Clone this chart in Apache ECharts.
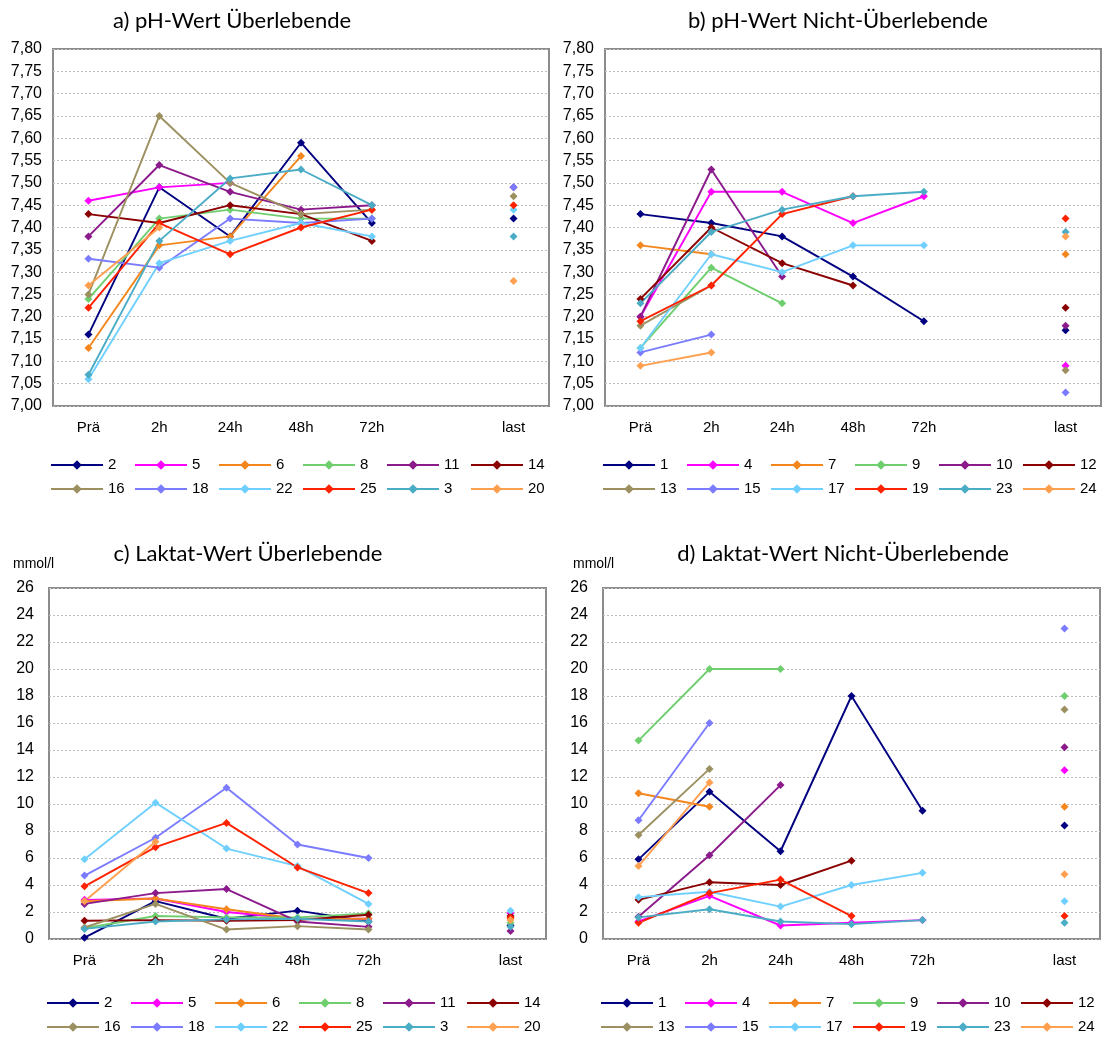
<!DOCTYPE html>
<html><head><meta charset="utf-8">
<script src="https://cdn.jsdelivr.net/npm/echarts@6/dist/echarts.min.js"></script>
<style>html,body{margin:0;padding:0;background:#fff}#c{width:1120px;height:1039px}</style>
</head><body><div id="c"></div>
<script>
const categories = ['Prä','2h','24h','48h','72h','','last'];
const phTicks = [7.00,7.80,0.05];
const lacTicks = [0,26,2];

const survIds = ['2','5','6','8','11','14','16','18','22','25','3','20'];
const nonIds  = ['1','4','7','9','10','12','13','15','17','19','23','24'];

const phSurv = [
  [7.16,7.49,7.38,7.59,7.41,null,7.42],
  [7.46,7.49,7.50,null,null,null,null],
  [7.13,7.36,7.38,7.56,null,null,null],
  [7.24,7.42,7.44,7.42,7.42,null,null],
  [7.38,7.54,7.48,7.44,7.45,null,7.49],
  [7.43,7.41,7.45,7.43,7.37,null,null],
  [7.25,7.65,7.50,7.43,7.44,null,7.47],
  [7.33,7.31,7.42,7.41,7.42,null,7.49],
  [7.06,7.32,7.37,7.41,7.38,null,7.44],
  [7.22,7.41,7.34,7.40,7.44,null,7.45],
  [7.07,7.37,7.51,7.53,7.45,null,7.38],
  [7.27,7.40,null,null,null,null,7.28]
];
const phNon = [
  [7.43,7.41,7.38,7.29,7.19,null,7.17],
  [7.20,7.48,7.48,7.41,7.47,null,7.09],
  [7.36,7.34,null,null,null,null,7.34],
  [7.13,7.31,7.23,null,null,null,null],
  [7.20,7.53,7.29,null,null,null,7.18],
  [7.24,7.40,7.32,7.27,null,null,7.22],
  [7.18,7.27,null,null,null,null,7.08],
  [7.12,7.16,null,null,null,null,7.03],
  [7.13,7.34,7.30,7.36,7.36,null,null],
  [7.19,7.27,7.43,7.47,null,null,7.42],
  [7.23,7.39,7.44,7.47,7.48,null,7.39],
  [7.09,7.12,null,null,null,null,7.38]
];
const lacSurv = [
  [0.1,2.8,1.5,2.1,1.3,null,1.0],
  [2.9,3.0,2.0,1.5,1.5,null,1.9],
  [2.8,3.0,2.2,1.5,1.5,null,1.5],
  [0.8,1.7,1.6,1.6,1.9,null,1.2],
  [2.6,3.4,3.7,1.3,0.9,null,0.6],
  [1.35,1.4,1.35,1.4,1.8,null,1.7],
  [0.85,2.6,0.7,0.95,0.7,null,null],
  [4.7,7.5,11.2,7.0,6.0,null,null],
  [5.9,10.1,6.7,5.4,2.6,null,2.1],
  [3.9,6.8,8.6,5.3,3.4,null,1.6],
  [0.75,1.3,1.45,1.5,1.3,null,0.9],
  [2.8,7.2,null,null,null,null,1.4]
];
const lacNon = [
  [5.9,10.9,6.5,18.0,9.5,null,8.4],
  [1.3,3.2,1.0,1.2,1.4,null,12.5],
  [10.8,9.8,null,null,null,null,9.8],
  [14.7,20.0,20.0,null,null,null,18.0],
  [1.65,6.2,11.4,null,null,null,14.2],
  [2.9,4.2,4.0,5.8,null,null,null],
  [7.7,12.6,null,null,null,null,17.0],
  [8.8,16.0,null,null,null,null,23.0],
  [3.1,3.5,2.4,4.0,4.9,null,2.8],
  [1.2,3.4,4.4,1.7,null,null,1.7],
  [1.6,2.2,1.3,1.1,1.4,null,1.2],
  [5.4,11.6,null,null,null,null,4.8]
];

const titles = ['a) pH-Wert Überlebende','b) pH-Wert Nicht-Überlebende','c) Laktat-Wert Überlebende','d) Laktat-Wert Nicht-Überlebende'];
const unitLabel = 'mmol/l';

const colors = ['#000080','#FF00FF','#F4861E','#6FCF6F','#8B1A8B','#8B0000','#9C9060','#7B7BFF','#6FD0FF','#FF2200','#4BACC6','#FFA050'];

const FONT = "'Liberation Sans', Arial, sans-serif";
const grids = [
  {left:53, top:49, width:496, height:357},
  {left:605, top:49, width:496, height:357},
  {left:49, top:588, width:497, height:351},
  {left:603, top:588, width:497, height:351}
];
const gridOpts = grids.map(g => Object.assign({show:true, borderColor:'#8c8c8c', borderWidth:2, backgroundColor:'#fff', containLabel:false}, g));

const xAxes = grids.map((g,i)=>({
  type:'category', gridIndex:i, data:categories, boundaryGap:true,
  axisLine:{show:false}, axisTick:{show:false},
  axisLabel:{interval:0, margin:14, color:'#000', fontFamily:FONT, fontSize:15}
}));
const yAxes = grids.map((g,i)=>{
  const t = i<2 ? phTicks : lacTicks;
  return {
    type:'value', gridIndex:i, min:t[0], max:t[1], interval:t[2],
    axisLine:{show:false}, axisTick:{show:false},
    splitLine:{show:true, lineStyle:{color:'#bdbdbd', type:[2,2], width:1}},
    axisLabel:{margin: i<2?11:15, color:'#000', fontFamily:FONT, fontSize:16,
      formatter: v => i<2 ? v.toFixed(2).replace('.', ',') : String(Math.round(v))}
  };
});

const panels = [[phSurv,survIds],[phNon,nonIds],[lacSurv,survIds],[lacNon,nonIds]];
const series = [];
panels.forEach(([vals,ids],p)=>{
  vals.forEach((row,k)=>{
    series.push({
      type:'line', name:ids[k], xAxisIndex:p, yAxisIndex:p, data:row,
      connectNulls:false, symbol:'diamond', symbolSize:8, showSymbol:true,
      color:colors[k], lineStyle:{width:1.9, color:colors[k]},
      itemStyle:{color:colors[k]}, emphasis:{disabled:true}, animation:false
    });
  });
});

const legendTops = [456, 456, 994, 994];
const legends = grids.map((g,i)=>({
  left: g.left - 3, top: legendTops[i], width: 510, orient:'horizontal', padding:0,
  data: (i%2===0?survIds:nonIds),
  itemWidth:52, itemHeight:12, itemGap:6, selectedMode:false,
  textStyle:{fontFamily:FONT, fontSize:15, color:'#000', width:20, lineHeight:18, overflow:'none'}
}));

const titleCenters = [[232,21],[838,21],[248,554],[843,554]];
const graphics = titles.map((t,i)=>({
  type:'text', x:titleCenters[i][0], y:titleCenters[i][1],
  style:{text:t, textAlign:'center', textVerticalAlign:'middle', font:"22px Lato, 'Open Sans', sans-serif", fill:'#000'}
}));
graphics.push({type:'text', x:13, y:564, style:{text:unitLabel, textVerticalAlign:'middle', font:"14px 'Liberation Sans', Arial, sans-serif", fill:'#000'}});
graphics.push({type:'text', x:573, y:564, style:{text:unitLabel, textVerticalAlign:'middle', font:"14px 'Liberation Sans', Arial, sans-serif", fill:'#000'}});

const chart = echarts.init(document.getElementById('c'), null, {renderer:'canvas'});
chart.setOption({
  animation:false,
  backgroundColor:'#fff',
  grid:gridOpts, xAxis:xAxes, yAxis:yAxes, series:series,
  legend:legends, graphic:graphics
});
</script></body></html>
